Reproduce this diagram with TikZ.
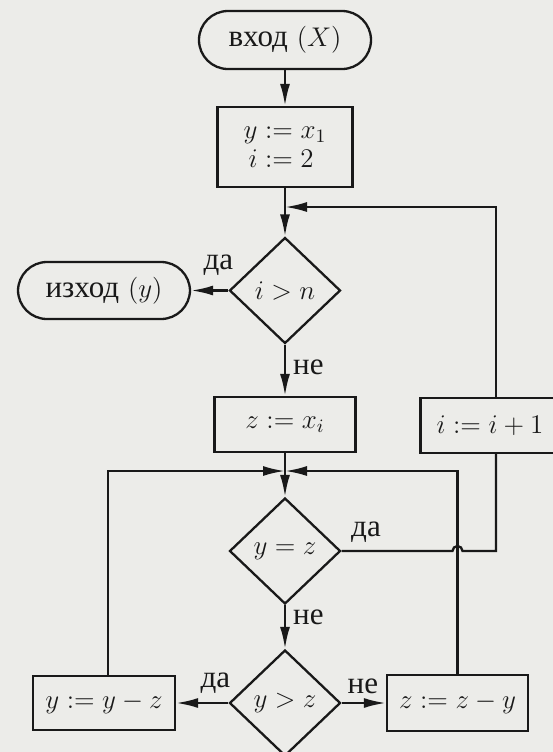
\RequirePackage{fix-cm}
\documentclass[tikz,border=0pt]{standalone}
\usepackage{fontspec}
\newfontfamily\cyr[Scale=1.15]{Liberation Serif}
\usetikzlibrary{shapes.geometric,arrows.meta,positioning}
\definecolor{paper}{RGB}{236,236,233}
\definecolor{ink}{RGB}{25,25,25}
\newcommand{\flowfont}{\fontsize{13.5}{16}\selectfont}
\renewcommand{\arraystretch}{0.9}

\begin{document}
\begin{tikzpicture}[x=0.5pt, y=-0.5pt, line width=1.15pt, color=ink,
  term/.style={draw, rectangle, rounded corners=14.5pt, minimum width=86pt, minimum height=29pt, font=\flowfont},
  procbox/.style={draw, rectangle, minimum width=70.5pt, minimum height=27.5pt, font=\flowfont},
  decide/.style={draw, diamond, minimum width=55.5pt, minimum height=53pt, inner sep=0pt, font=\flowfont},
  flow/.style={-{Latex[length=11pt,width=5pt]}},
  lbl/.style={font=\flowfont\cyr, inner sep=1pt}]

\useasboundingbox (0,0) rectangle (553,752);
\clip (0,0) rectangle (553,752);
\fill[paper] (0,0) rectangle (553,752);

% main column
\node[term] (start) at (285,40) {{\cyr вход} $(X)$};
\node[procbox, minimum width=67.5pt, minimum height=40pt] (init) at (285,147)
  {$\begin{array}{@{}r@{}l@{}} y & {}:= x_1\\ i & {}:= 2 \end{array}$};
\node[decide] (cmp) at (285,290.5) {$i > n$};
\node[term, minimum height=28.5pt] (out) at (104,290.5) {{\cyr изход} $(y)$};
\node[procbox] (zbox) at (285,424.5) {$z := x_i$};
\node[procbox, minimum width=69.5pt] (incbox) at (490,425.5) {$i := i + 1$};
\node[decide] (eq) at (285,551) {$y = z$};
\node[decide] (gt) at (285,703) {$y > z$};
\node[procbox, minimum width=71pt, minimum height=27pt] (ysub) at (104,703) {$y := y - z$};
\node[procbox, minimum height=28pt] (zsub) at (457.5,703) {$z := z - y$};

% junctions
\coordinate (j1) at (285,207);
\coordinate (j2) at (285,471);
\coordinate (rtop) at ([xshift=3pt]incbox.north);
\coordinate (rbot) at ([xshift=3pt]incbox.south);
\coordinate (ltop) at ([xshift=2pt]ysub.north);
\coordinate (hop) at (zsub.north |- eq.east);

% connectors
\draw[flow] (start) -- (init);
\draw[flow] (init) -- (cmp);
\draw[flow] (rtop) |- (j1);
\draw[flow] (cmp) -- node[lbl, above=6pt, pos=0.27] {да} (out);
\draw[flow] (cmp) -- node[lbl, right=2.5pt, pos=0.44] {не} (zbox);
\draw[flow] (zbox) -- (eq);
\draw[flow] (ltop) |- (j2);
\draw[flow] (zsub.north) |- (j2);
\draw (eq.east) -- node[lbl, above=2.5pt, pos=0.22] {да} ([xshift=-2.5pt]hop)
  arc[start angle=180, end angle=0, radius=2.5pt] -- (rbot |- hop) -- (rbot);
\draw[flow] (eq) -- node[lbl, right=2.5pt, pos=0.29] {не} (gt);
\draw[flow] (gt) -- node[lbl, above=3pt, pos=0.25] {да} (ysub);
\draw[flow] (gt) -- node[lbl, above=3pt, pos=0.48] {не} (zsub);

\end{tikzpicture}
\end{document}
